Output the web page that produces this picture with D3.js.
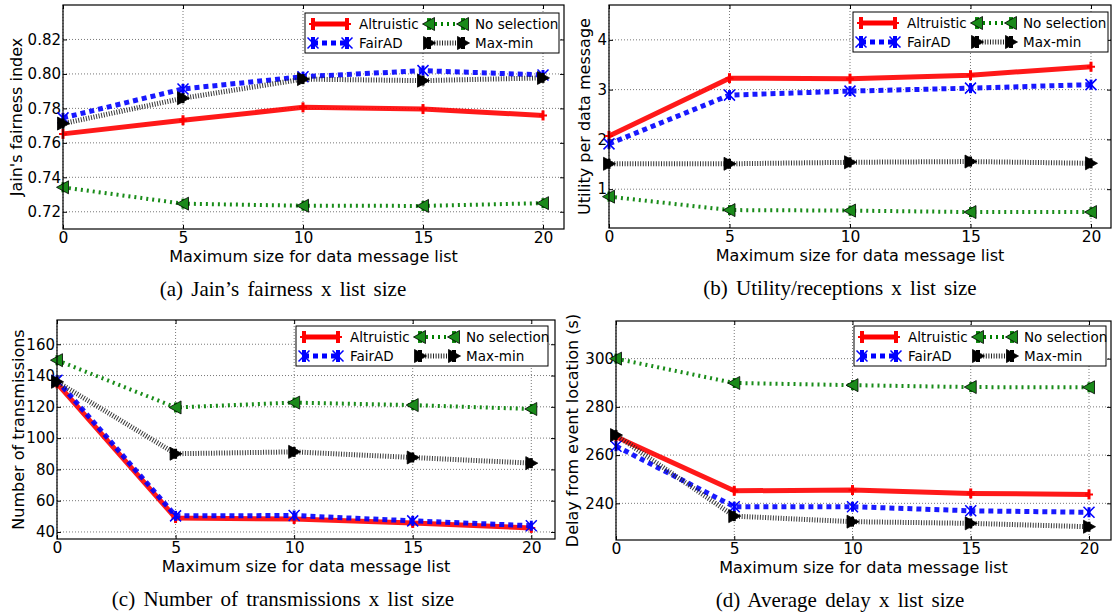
<!DOCTYPE html>
<head>
<meta charset="utf-8">
<style>
body{
    margin:0;
    background:#fff;
}
text{ font-family:"DejaVu Sans", sans-serif; }
.caption{ font-family:"Liberation Serif", "Times New Roman", serif; }
</style>
<title>List size results</title>
</head>
<body>
<svg id="fig" width="1112" height="614"></svg>
<script src="https://cdnjs.cloudflare.com/ajax/libs/d3/7.8.5/d3.min.js"></script>
<script>
// x values shared by all four plots
var listSizes = [0, 5, 10, 15, 20];
var xTicks = [0, 5, 10, 15, 20];
var seriesNames = ["Altruistic", "FairAD", "No selection", "Max-min"];

// (a) Jain's fairness index
var fairAltruistic = [0.7652, 0.7731, 0.7806, 0.7796, 0.7759];
var fairFairAD     = [0.7745, 0.7913, 0.7984, 0.8019, 0.7994];
var fairNoSel      = [0.7342, 0.7247, 0.7235, 0.7234, 0.7250];
var fairMaxMin     = [0.7712, 0.7859, 0.7970, 0.7961, 0.7977];
var fairTicks = [0.72, 0.74, 0.76, 0.78, 0.80, 0.82];

// (b) utility per data message
var utilAltruistic = [2.07, 3.23, 3.22, 3.29, 3.46];
var utilFairAD     = [1.91, 2.89, 2.97, 3.03, 3.10];
var utilNoSel      = [0.85, 0.58, 0.57, 0.54, 0.54];
var utilMaxMin     = [1.51, 1.51, 1.54, 1.555, 1.52];
var utilTicks = [1, 2, 3, 4];

// (c) number of transmissions
var transAltruistic = [135, 48.9, 48.3, 45.8, 42.6];
var transFairAD     = [137, 50.3, 50.5, 47.1, 44.0];
var transNoSel      = [149.8, 119.6, 122.7, 121.1, 118.6];
var transMaxMin     = [136, 90.0, 91.2, 87.6, 84.0];
var transTicks = [40, 60, 80, 100, 120, 140, 160];

// (d) delay from event location
var delayAltruistic = [267.6, 245.2, 245.5, 244.1, 243.7];
var delayFairAD     = [263.7, 238.6, 238.6, 236.9, 236.3];
var delayNoSel      = [300.0, 289.9, 289.0, 288.2, 288.1];
var delayMaxMin     = [268.3, 234.7, 232.4, 231.7, 230.3];
var delayTicks = [240, 260, 280, 300];

var svg = d3.select("#fig");

// line style per series
var styles = {
    "Altruistic":   {color:"#ff0000", width:5, dash:null,    marker:"plus"},
    "FairAD":       {color:"#0000ff", width:5, dash:"5,4",   marker:"x"},
    "No selection": {color:"#008000", width:4, dash:"2,4",   marker:"left"},
    "Max-min":      {color:"#222222", width:5, dash:"1,1.6", marker:"right"}
};

function drawMarker(g, name, cx, cy){
    var st = styles[name];
    // small vertical error bar
    g.append("line").attr("x1",cx).attr("x2",cx).attr("y1",cy-5).attr("y2",cy+5)
        .attr("stroke", name=="Max-min" ? "#000" : st.color).attr("stroke-width",3);
    var s = 5.5;
    if(st.marker=="plus"){
        g.append("path").attr("d","M"+(cx-4)+","+cy+"H"+(cx+4)+"M"+cx+","+(cy-4)+"V"+(cy+4))
            .attr("stroke",st.color).attr("stroke-width",2);
    } else if(st.marker=="x"){
        g.append("path").attr("d","M"+(cx-s)+","+(cy-s)+"L"+(cx+s)+","+(cy+s)+"M"+(cx-s)+","+(cy+s)+"L"+(cx+s)+","+(cy-s))
            .attr("stroke",st.color).attr("stroke-width",1.5);
    } else if(st.marker=="left"){
        g.append("path").attr("d","M"+(cx-s-1)+","+cy+"L"+(cx+s)+","+(cy-s-1)+"L"+(cx+s)+","+(cy+s+1)+"Z")
            .attr("fill","#1a8a1a").attr("stroke","#000").attr("stroke-width",0.8);
    } else {
        g.append("path").attr("d","M"+(cx+s+1)+","+cy+"L"+(cx-s)+","+(cy-s-1)+"L"+(cx-s)+","+(cy+s+1)+"Z")
            .attr("fill","#000").attr("stroke","#000").attr("stroke-width",0.8);
    }
}

function panel(p){
    var g = svg.append("g");
    var x = d3.scaleLinear().domain([0, p.xmax]).range([p.left, p.right]);
    var y = d3.scaleLinear().domain(p.ydom).range([p.bottom, p.top]);

    // grid
    g.selectAll(".gx").data(xTicks).enter().append("line")
        .attr("x1",function(d){return x(d);}).attr("x2",function(d){return x(d);})
        .attr("y1",p.top).attr("y2",p.bottom)
        .attr("stroke","#555").attr("stroke-width",0.8).attr("stroke-dasharray","1,2");
    g.selectAll(".gy").data(p.ticks).enter().append("line")
        .attr("x1",p.left).attr("x2",p.right)
        .attr("y1",function(d){return y(d);}).attr("y2",function(d){return y(d);})
        .attr("stroke","#555").attr("stroke-width",0.8).attr("stroke-dasharray","1,2");

    // axes with inward ticks, labels placed by d3 axis
    var ax = g.append("g").attr("transform","translate(0,"+p.bottom+")")
        .call(d3.axisBottom(x).tickValues(xTicks).tickSize(-4).tickPadding(3));
    var ay = g.append("g").attr("transform","translate("+p.left+",0)")
        .call(d3.axisLeft(y).tickValues(p.ticks).tickSize(-4).tickPadding(2).tickFormat(p.fmt));
    g.append("g").attr("transform","translate(0,"+p.top+")")
        .call(d3.axisTop(x).tickValues(xTicks).tickSize(-4).tickFormat(""));
    g.append("g").attr("transform","translate("+p.right+",0)")
        .call(d3.axisRight(y).tickValues(p.ticks).tickSize(-4).tickFormat(""));
    g.selectAll(".domain").remove();
    g.selectAll(".tick line").attr("stroke","#000");
    ax.selectAll("text").attr("font-size",15.5).attr("fill","#000").attr("font-family","DejaVu Sans");
    ay.selectAll("text").attr("font-size",15).attr("fill","#000").attr("font-family","DejaVu Sans");

    var line = d3.line().x(function(d){return x(d[0]);}).y(function(d){return y(d[1]);});
    seriesNames.forEach(function(name, i){
        var st = styles[name];
        var pts = listSizes.map(function(v,j){ return [v, p.values[i][j]]; });
        g.append("path").datum(pts).attr("d",line).attr("fill","none")
            .attr("stroke",st.color).attr("stroke-width",st.width)
            .attr("stroke-dasharray",st.dash).attr("stroke-opacity",0.9);
        pts.forEach(function(d){ drawMarker(g, name, x(d[0]), y(d[1])); });
    });

    // frame
    g.append("rect").attr("x",p.left).attr("y",p.top)
        .attr("width",p.right-p.left).attr("height",p.bottom-p.top)
        .attr("fill","none").attr("stroke","#000").attr("stroke-width",1.2);

    // legend
    var lg = g.append("g").attr("transform","translate("+p.legX+","+p.legY+")");
    lg.append("rect").attr("width",p.legW).attr("height",40)
        .attr("fill","#fff").attr("stroke","#000").attr("stroke-width",1);
    var order = [["Altruistic",0,0],["FairAD",0,1],["No selection",1,0],["Max-min",1,1]];
    order.forEach(function(o){
        var st = styles[o[0]];
        var x0 = o[1]==0 ? 8 : 124, yy = o[2]==0 ? 11 : 30;
        lg.append("line").attr("x1",x0).attr("x2",x0+34).attr("y1",yy).attr("y2",yy)
            .attr("stroke",st.color).attr("stroke-width",st.width).attr("stroke-dasharray",st.dash);
        [x0, x0+34].forEach(function(cx){
            lg.append("line").attr("x1",cx).attr("x2",cx).attr("y1",yy-6).attr("y2",yy+6)
                .attr("stroke", o[0]=="Max-min" ? "#000" : (o[0]=="No selection" ? "#1a8a1a" : st.color))
                .attr("stroke-width",4);
            drawMarker(lg, o[0], cx, yy);
        });
        lg.append("text").attr("x",x0+46).attr("y",yy+5).attr("font-size",13.5).text(o[0]);
    });

    // y label
    g.append("text").attr("transform","translate("+p.ylabX+","+((p.top+p.bottom)/2)+") rotate(-90)")
        .attr("text-anchor","middle").attr("font-size",16).text(p.ylabel);
    // x label
    g.append("text").attr("x",(p.left+p.right)/2).attr("y",p.bottom+33)
        .attr("text-anchor","middle").attr("font-size",16).text("Maximum size for data message list");
    // caption
    g.append("text").attr("class","caption").attr("x",p.capX).attr("y",p.bottom+67)
        .attr("text-anchor","middle").attr("font-size",21).attr("word-spacing",3).text(p.caption);
}

panel({left:63, right:564, top:5, bottom:229, xmax:20.875, ydom:[0.71,0.84], ticks:fairTicks,
    fmt:d3.format(".2f"), values:[fairAltruistic, fairFairAD, fairNoSel, fairMaxMin],
    legX:305, legY:13, legW:254, ylabX:22, ylabel:"Jain's fairness index",
    capX:283, caption:"(a) Jain\u2019s fairness x list size"});

panel({left:609, right:1111, top:5, bottom:228, xmax:20.83, ydom:[0.22,4.7], ticks:utilTicks,
    fmt:d3.format("d"), values:[utilAltruistic, utilFairAD, utilNoSel, utilMaxMin],
    legX:853, legY:12, legW:255, ylabX:590, ylabel:"Utility per data message",
    capX:840, caption:"(b) Utility/receptions x list size"});

panel({left:57, right:555, top:320, bottom:539, xmax:21.0, ydom:[35.5,175.5], ticks:transTicks,
    fmt:d3.format("d"), values:[transAltruistic, transFairAD, transNoSel, transMaxMin],
    legX:296, legY:326, legW:252, ylabX:24, ylabel:"Number of transmissions",
    capX:283, caption:"(c) Number of transmissions x list size"});

panel({left:616, right:1111, top:321, bottom:540, xmax:20.93, ydom:[224.8,315.6], ticks:delayTicks,
    fmt:d3.format("d"), values:[delayAltruistic, delayFairAD, delayNoSel, delayMaxMin],
    legX:854, legY:326, legW:252, ylabX:578, ylabel:"Delay from event location (s)",
    capX:840, caption:"(d) Average delay x list size"});
</script>
</body>
